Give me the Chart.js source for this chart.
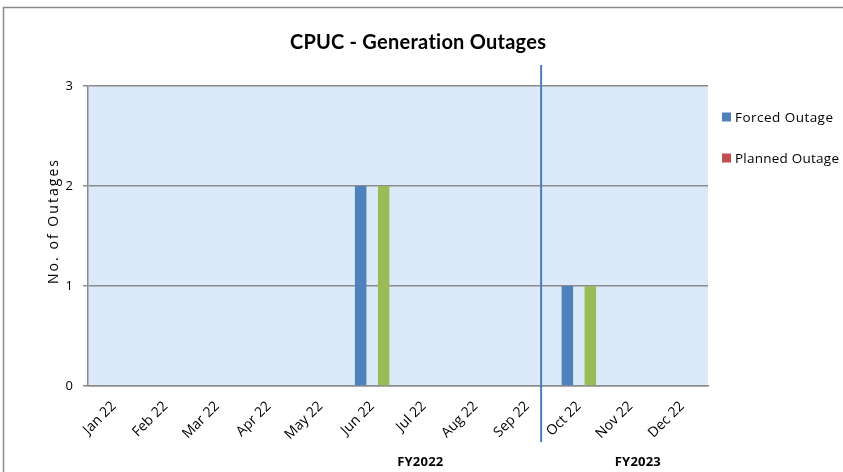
<!DOCTYPE html>
<html>
<head>
<meta charset="utf-8">
<script src="https://cdn.jsdelivr.net/npm/chart.js@4.4.0/dist/chart.umd.min.js"></script>
<style>
html,body{margin:0;padding:0;background:#fff;}
#wrap{width:843px;height:472px;position:relative;}
</style>
</head>
<body>
<div id="wrap"><canvas id="c" width="843" height="472"></canvas></div>
<script>
const months = ["Jan 22","Feb 22","Mar 22","Apr 22","May 22","Jun 22","Jul 22","Aug 22","Sep 22","Oct 22","Nov 22","Dec 22"];
const forcedOutage  = [0,0,0,0,0,2,0,0,0,1,0,0];
const plannedOutage = [0,0,0,0,0,0,0,0,0,0,0,0];
const otherOutage   = [0,0,0,0,0,2,0,0,0,1,0,0];
const yTicks = [0,1,2,3];
const fiscalYears = ["FY2022","FY2023"];
const fiscalYearPos = [5.93, 10.14];   // category-index positions of the group labels
const dividerPos = 8.27;               // category-index position of the divider line

const TFONT = "Lato, 'Open Sans', sans-serif";
const FONT = "'Open Sans', Lato, sans-serif";

// draw text centred/left at (x,y), widened by letter spacing to a target width
function spacedText(ctx, text, x, y, targetW, align) {
  const chars = [...text];
  const widths = chars.map(c => ctx.measureText(c).width);
  const natural = widths.reduce((a, b) => a + b, 0);
  const sp = chars.length > 1 ? Math.max(0, (targetW - natural) / (chars.length - 1)) : 0;
  const total = natural + sp * (chars.length - 1);
  let cx = align === 'left' ? x : x - total / 2;
  const prev = ctx.textAlign;
  ctx.textAlign = 'left';
  chars.forEach((c, i) => { ctx.fillText(c, cx, y); cx += widths[i] + sp; });
  ctx.textAlign = prev;
}

const decor = {
  id: 'decor',
  beforeDraw(chart) {
    const {ctx, chartArea: a} = chart;
    ctx.save();
    ctx.fillStyle = '#dce9f8';
    ctx.fillRect(a.left, a.top, a.right - a.left, a.bottom - a.top);
    ctx.strokeStyle = '#8a8a8a';
    ctx.lineWidth = 1.5;
    ctx.beginPath();
    ctx.moveTo(3.5, 472); ctx.lineTo(3.5, 7.5); ctx.lineTo(843, 7.5);
    ctx.stroke();
    ctx.restore();
  },
  afterDraw(chart) {
    const {ctx, scales: {x}} = chart;
    ctx.save();
    ctx.fillStyle = '#000';
    ctx.textBaseline = 'middle';
    // title
    ctx.font = "bold 20px " + TFONT;
    spacedText(ctx, "CPUC - Generation Outages", 418, 43, 256, 'center');
    // y axis title
    ctx.save();
    ctx.translate(54, 222);
    ctx.rotate(-Math.PI/2);
    ctx.font = "14px " + FONT;
    spacedText(ctx, "No. of Outages", 0, 0, 124, 'center');
    ctx.restore();
    // divider line
    const w = x.getPixelForValue(1) - x.getPixelForValue(0);
    const dx = x.getPixelForValue(0) + dividerPos * w;
    ctx.strokeStyle = '#4a7ebb';
    ctx.lineWidth = 2;
    ctx.beginPath(); ctx.moveTo(dx, 65); ctx.lineTo(dx, 442); ctx.stroke();
    // fiscal year labels
    ctx.font = "bold 13px " + FONT;
    fiscalYears.forEach((fy, i) => {
      spacedText(ctx, fy, x.getPixelForValue(0) + fiscalYearPos[i] * w, 462, 46, 'center');
    });
    // legend
    ctx.font = "13.5px " + FONT;
    const legendItems = chart.data.datasets.slice(0, 2);
    const legendW = [98, 104];
    legendItems.forEach((ds, i) => {
      const y = 117 + i * 41;
      ctx.fillStyle = ds.backgroundColor;
      ctx.fillRect(722, y - 4.5, 9, 9);
      ctx.fillStyle = '#000';
      spacedText(ctx, ds.label, 735, y + 1, legendW[i], 'left');
    });
    ctx.restore();
  }
};

new Chart(document.getElementById('c'), {
  type: 'bar',
  data: {
    labels: months,
    datasets: [
      {label: 'Forced Outage', data: forcedOutage, backgroundColor: '#4f81bd'},
      {label: 'Planned Outage', data: plannedOutage, backgroundColor: '#c0504d'},
      {label: '', data: otherOutage, backgroundColor: '#9bbb59'}
    ]
  },
  options: {
    responsive: false,
    animation: false,
    devicePixelRatio: 1,
    layout: {padding: {left: 58, top: 86, right: 135, bottom: 0}},
    datasets: {bar: {categoryPercentage: 0.667, barPercentage: 1.0}},
    plugins: {legend: {display: false}, title: {display: false}, tooltip: {enabled: false}},
    scales: {
      x: {
        afterFit(s) { s.height = 86; },
        grid: {display: false, drawTicks: false},
        border: {display: true, color: '#8c8c8c', width: 1.5},
        ticks: {
          maxRotation: 45, minRotation: 45, padding: 12,
          color: '#000', font: {family: FONT, size: 14}
        }
      },
      y: {
        min: 0, max: 3,
        afterFit(s) { s.width = 30; },
        afterBuildTicks(s) { s.ticks = yTicks.map(v => ({value: v})); },
        grid: {color: '#8c8c8c', lineWidth: 1.5, tickLength: 5, drawTicks: true},
        border: {display: true, color: '#8c8c8c', width: 1.5},
        ticks: {padding: 10, color: '#000', font: {family: FONT, size: 13}}
      }
    }
  },
  plugins: [decor]
});
</script>
</body>
</html>
